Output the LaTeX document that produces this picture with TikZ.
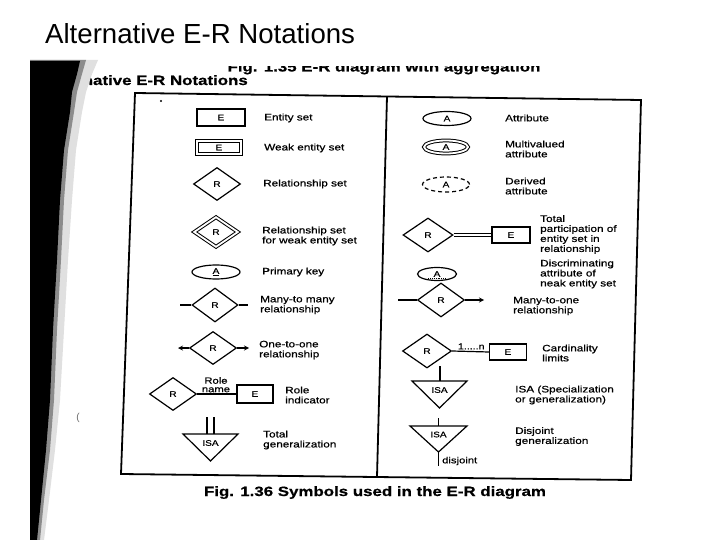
\documentclass[tikz,border=0pt]{standalone}
\usepackage{fontspec}
\setmainfont{Liberation Sans}
\newfontfamily\scanfont[FakeStretch=1.25, FakeBold=0.6]{Liberation Sans}
\usetikzlibrary{shapes.geometric,arrows,positioning,calc}

\begin{document}
\begin{tikzpicture}[
    x=1pt, y=-1pt,
    sym/.style={draw, line width=1.2pt, inner sep=0pt, font=\scanfont\fontsize{8}{8}\selectfont},
    entity/.style={sym, rectangle, minimum width=48, minimum height=17},
    weakentity/.style={sym, rectangle, double, double distance=1.8pt, line width=1pt, minimum width=44.2, minimum height=13.2},
    rel/.style={sym, diamond, minimum width=47, minimum height=33},
    weakrel/.style={sym, diamond, double, double distance=1.8pt, line width=1pt, minimum width=44, minimum height=30},
    attr/.style={sym, ellipse, minimum width=48, minimum height=14},
    multiattr/.style={sym, ellipse, double, double distance=1.8pt, line width=1pt, minimum width=44, minimum height=13},
    derived/.style={sym, ellipse, dash pattern=on 4pt off 3pt, minimum width=47, minimum height=15},
    tri/.style={line width=1.2pt, line join=miter},
    isatxt/.style={inner sep=0pt, font=\scanfont\fontsize{8}{8}\selectfont},
    lab/.style={anchor=west, align=left, inner sep=0pt, font=\scanfont\fontsize{9.4}{10}\selectfont},
    head/.style={inner sep=0pt, font=\scanfont\bfseries\fontsize{13.5}{14}\selectfont},
    link/.style={line width=1.2pt},
    arrow/.style={->, >=stealth, line width=1.2pt}
]
    \fill[white] (0,0) rectangle (720,540);
    \useasboundingbox (0,0) rectangle (720,540);

    % slide title
    \node[anchor=base west, inner sep=0pt, font=\fontsize{27.6}{30}\selectfont] (title) at (45,44) {Alternative E-R Notations};

    % scanned page: headings
    \begin{scope}
        \clip (0,66.5) rectangle (720,540);
        \node[head, anchor=base] (prevfig) at (384,71.5) {Fig. 1.35 E-R diagram with aggregation};
    \end{scope}
    \node[head, anchor=base east] (heading) at (248,85) {Alternative E-R Notations};
    \node[head, anchor=base] (caption) at (375,496) {Fig. 1.36 Symbols used in the E-R diagram};

    % frame
    \draw[line width=1.8pt] (135,93) -- (641,100) -- (631,480) -- (121,474) -- cycle;
    \draw[line width=1.8pt] (387,96.5) -- (377,477);
    \fill (161,101) circle (1.1);

    % left column
    \node[entity] (ent) at (221,117.5) {E};
    \node[lab] (entl) at (264,118) {Entity set};

    \node[weakentity] (weak) at (219,147.5) {E};
    \node[lab] (weakl) at (264,148) {Weak entity set};

    \node[rel] (rel) at (217,184) {R};
    \node[lab] (rell) at (263,184) {Relationship set};

    \node[weakrel] (wrel) at (216,232) {R};
    \node[lab] (wrell) at (262,236) {Relationship set\\for weak entity set};

    \node[attr] (pk) at (216,272) {\underline{A}};
    \node[lab] (pkl) at (262,272) {Primary key};

    \node[rel, minimum width=46, minimum height=34] (mm) at (215,305) {R};
    \coordinate (mmL) at (180,305);
    \coordinate (mmR) at (248,305);
    \draw[link] (mmL) -- (mm.west);
    \draw[link] (mm.east) -- (mmR);
    \node[lab] (mml) at (260,305) {Many-to many\\relationship};

    \node[rel] (oo) at (213,348) {R};
    \coordinate (ooL) at (178,348);
    \coordinate (ooR) at (249,348);
    \draw[arrow] (oo.west) -- (ooL);
    \draw[arrow] (oo.east) -- (ooR);
    \node[lab] (ool) at (259,350) {One-to-one\\relationship};

    \node[rel] (role) at (173,394) {R};
    \node[entity, minimum width=36, minimum height=18] (rie) at (255,394) {E};
    \draw[link] (role.east) -- (rie.west);
    \node[lab, anchor=south, align=center, font=\scanfont\fontsize{9}{8.5}\selectfont, yshift=1.5pt] (rolename) at ($(role.east)!0.48!(rie.west)$) {Role\\name};
    \node[lab] (riel) at (285,395) {Role\\indicator};

    \coordinate (tgL) at (183,434);
    \coordinate (tgR) at (238,434);
    \coordinate (tgB) at (210.5,461);
    \draw[tri] (tgL) -- (tgR) -- (tgB) -- cycle;
    \node[isatxt] (tg) at (210.5,443) {ISA};
    \coordinate (tgT1) at (207,417);
    \coordinate (tgT2) at (214,417);
    \draw[link] (tgT1) -- (tgT1 |- tgL);
    \draw[link] (tgT2) -- (tgT2 |- tgL);
    \node[lab] (tgl) at (263,440) {Total\\generalization};

    % right column
    \node[attr] (att) at (447,118.5) {A};
    \node[lab] (attl) at (505,118) {Attribute};

    \node[multiattr] (mva) at (446,147) {A};
    \node[lab] (mval) at (505,149) {Multivalued\\attribute};

    \node[derived] (der) at (446,184.5) {A};
    \node[lab] (derl) at (505,186) {Derived\\attribute};

    \node[rel, minimum width=50, minimum height=34] (tp) at (428,235) {R};
    \node[entity, minimum width=38, minimum height=16] (tpe) at (511,235) {E};
    \draw[double, double distance=1.5pt, line width=0.8pt] (tp.east) -- (tpe.west);
    \node[lab] (tpl) at (540,234.5) {Total\\participation of\\entity set in\\relationship};

    \node[attr, minimum width=39, minimum height=13] (disc) at (437,274) {A};
    \draw[densely dotted, line width=0.9pt] ($(disc.center)+(-9,4)$) -- ($(disc.center)+(9,4)$);
    \node[lab] (discl) at (540,274) {Discriminating\\attribute of\\neak entity set};

    \node[rel, minimum height=34] (mo) at (441,300) {R};
    \coordinate (moL) at (398,300);
    \coordinate (moR) at (484,300);
    \draw[link] (moL) -- (mo.west);
    \draw[arrow] (mo.east) -- (moR);
    \node[lab] (mol) at (513,306) {Many-to-one\\relationship};

    \node[rel, minimum width=49, minimum height=34] (card) at (427,351) {R};
    \node[entity, minimum width=37, minimum height=16] (carde) at (508,352) {E};
    \draw[link] (card.east) -- (carde.west);
    \node[lab, anchor=south, font=\scanfont\fontsize{8.5}{9}\selectfont, yshift=2pt] (cardn) at ($(card.east)!0.52!(carde.west)$) {1.....n};
    \node[lab] (cardl) at (542,353) {Cardinality\\limits};

    \coordinate (isaT) at (440,366);
    \coordinate (isaL) at (412,381);
    \coordinate (isaR) at (467,381);
    \coordinate (isaB) at (439.5,408);
    \draw[tri] (isaL) -- (isaR) -- (isaB) -- cycle;
    \draw[link] (isaT) -- (isaT |- isaL);
    \node[isatxt] (isa) at (439.5,390) {ISA};
    \node[lab] (isal) at (515,395) {ISA (Specialization\\or generalization)};

    \coordinate (djT) at (438.5,418);
    \coordinate (djL) at (410,426);
    \coordinate (djR) at (467,426);
    \coordinate (djB) at (438.5,452);
    \coordinate (djE) at (438.5,466);
    \draw[tri] (djL) -- (djR) -- (djB) -- cycle;
    \draw[link] (djT) -- (djT |- djL);
    \draw[link] (djB) -- (djE);
    \node[isatxt] (dj) at (438.5,434.5) {ISA};
    \node[lab, font=\scanfont\fontsize{9}{9}\selectfont] (djtxt) at (442,461) {disjoint};
    \node[lab] (djl) at (515,436.5) {Disjoint\\generalization};

    % dark edge of the scan
    \fill[black!12] (30,60) -- (98,60) -- (92,74) -- (86,92) -- (82,112) -- (76,150) -- (72,200) -- (68,260) -- (64,330) -- (60,400) -- (55,450) -- (49,500) -- (44,540) -- (30,540) -- cycle;
    \fill[black!45] (30,60) -- (86,60) -- (82,74) -- (77,92) -- (74,112) -- (68,150) -- (64,200) -- (61,260) -- (57,330) -- (54,400) -- (50,450) -- (44,500) -- (40,540) -- (30,540) -- cycle;
    \fill[black] (30,61) -- (80,61) -- (77,74) -- (72,92) -- (70,112) -- (64,150) -- (60,200) -- (57,260) -- (53,330) -- (50,400) -- (46,450) -- (41,500) -- (37,540) -- (30,540) -- cycle;
    \node[inner sep=0pt, text=black!60, font=\fontsize{10}{10}\selectfont] (speck) at (78,418) {(};
\end{tikzpicture}
\end{document}
